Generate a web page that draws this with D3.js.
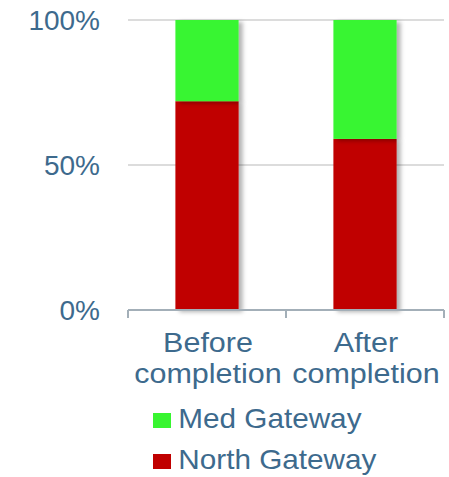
<!DOCTYPE html>
<html><head><meta charset="utf-8">
<script src="https://cdn.jsdelivr.net/npm/d3@7"></script>
<style>html,body{margin:0;padding:0;background:#fff;overflow:hidden}</style>
</head><body>
<svg id="c" width="449" height="477"></svg>
<script>
const categories = [["Before","completion"],["After","completion"]];
const seriesNames = ["North Gateway","Med Gateway"];
const northValues = [0.72, 0.59];
const medValues = [0.28, 0.41];
const seriesColors = ["#c00000","#38f530"];
const yTicks = [0, 0.5, 1];

const svg = d3.select("#c");
const m = {left:128, right:5, top:20, bottom:167};
const W = 449, H = 477;
const textColor = "#3d6a8d";
const font = "'Liberation Sans', Arial, sans-serif";

const defs = svg.append("defs");
const f = defs.append("filter").attr("id","sh").attr("x","-20%").attr("y","-5%").attr("width","150%").attr("height","115%");
f.append("feDropShadow").attr("dx",4).attr("dy",2).attr("stdDeviation",2).attr("flood-color","#000").attr("flood-opacity",0.3);

const x = d3.scaleBand().domain(categories.map((c,i)=>i)).range([m.left, W-m.right]).paddingInner(0.6).paddingOuter(0.3);
const y = d3.scaleLinear().domain([0,1]).range([H-m.bottom, m.top]);

// gridlines
svg.append("g").selectAll("line").data(yTicks.filter(t=>t>0)).join("line")
  .attr("x1", m.left).attr("x2", W-m.right)
  .attr("y1", d=>y(d)).attr("y2", d=>y(d))
  .attr("stroke","#dcdcdc").attr("stroke-width",2);

// y labels
svg.append("g").selectAll("text").data(yTicks).join("text")
  .attr("x", 100).attr("y", d=>y(d)).attr("dy","0.35em")
  .attr("text-anchor","end").attr("font-family",font).attr("font-size",28)
  .attr("fill",textColor).text(d=>d3.format(".0%")(d));

// stacked data
const rows = categories.map((c,i)=>({i, north:northValues[i], med:medValues[i]}));
const stack = d3.stack().keys(["north","med"])(rows);

svg.append("g").selectAll("g").data(stack).join("g")
  .attr("fill",(d,k)=>seriesColors[k])
  .selectAll("rect").data(d=>d).join("rect")
  .attr("x", d=>x(d.data.i)).attr("width", x.bandwidth())
  .attr("y", d=>y(d[1])).attr("height", d=>y(d[0])-y(d[1]))
  .attr("filter","url(#sh)");

// x axis
const axisY = y(0);
const tickXs = [m.left, m.left + (W-m.right-m.left)/2, W-m.right];
const ax = svg.append("g").attr("stroke","#a3afb8").attr("stroke-width",2);
ax.append("line").attr("x1",m.left).attr("x2",W-m.right).attr("y1",axisY).attr("y2",axisY);
ax.selectAll("line.t").data(tickXs).join("line").attr("class","t")
  .attr("x1",d=>d).attr("x2",d=>d).attr("y1",axisY).attr("y2",axisY+8);

// category labels
const cl = svg.append("g").selectAll("text").data(categories).join("text")
  .attr("text-anchor","middle").attr("font-family",font).attr("font-size",28)
  .attr("fill",textColor)
  .attr("transform",(d,i)=>`translate(${x(i)+x.bandwidth()/2+1},0) scale(1.09,1)`);
cl.selectAll("tspan").data(d=>d).join("tspan")
  .attr("x",0).attr("y",(d,j)=>352+j*31).text(d=>d);

// legend (Med first, then North)
const legendOrder = [1,0];
const lg = svg.append("g").selectAll("g").data(legendOrder).join("g")
  .attr("transform",(d,j)=>`translate(153,${413+j*41})`);
lg.append("rect").attr("width",18).attr("height",15).attr("fill",d=>seriesColors[d]);
lg.append("text").attr("x",23).attr("y",15).attr("font-family",font).attr("font-size",27)
  .attr("fill",textColor).attr("transform","scale(1.1,1)").text(d=>seriesNames[d]);
</script>
</body></html>
